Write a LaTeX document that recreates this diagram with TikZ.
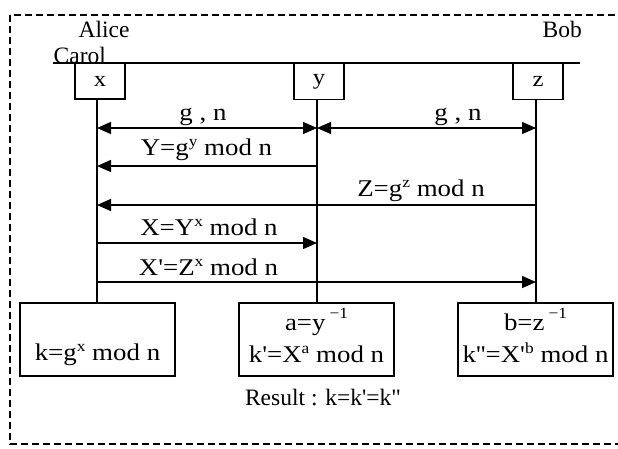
\documentclass[tikz,border=0pt]{standalone}
\usepackage{fontspec}
\usetikzlibrary{arrows.meta}
\newfontfamily\labfont[FakeStretch=1.12]{Liberation Serif}
\newfontfamily\namefont{Liberation Serif}
\newcommand\spr[1]{\raisebox{9pt}{\fontsize{15.5}{15.5}\selectfont #1}}
\newcommand\sprhi[1]{\,\raisebox{12pt}{\fontsize{15.5}{15.5}\selectfont #1}}
\begin{document}
\begin{tikzpicture}[x=1pt,y=-1pt,line width=1.3pt,
  lab/.style={font=\labfont\fontsize{24}{28}\selectfont,inner sep=0pt,anchor=base},
  nm/.style={font=\namefont\fontsize{23.5}{27}\selectfont,inner sep=0pt,anchor=base west},
  tbox/.style={draw,line width=1.5pt,minimum width=50pt,minimum height=36pt,inner sep=0pt,font=\labfont\fontsize{22}{26}\selectfont},
  kbox/.style={draw,line width=1.5pt,minimum width=155pt,minimum height=73pt,inner sep=0pt},
  frame/.style={line width=1.2pt,dash pattern=on 7pt off 4pt},
  tip/.style={-{Triangle[length=14pt,width=12pt]}},
  dtip/.style={{Triangle[length=14pt,width=12pt]}-{Triangle[length=14pt,width=12pt]}}]
\useasboundingbox (0,0) rectangle (618,448);
\draw[frame] (10,15) rectangle (626,444);

% names
\node[nm] (alice) at (78,37) {Alice};
\node[nm] (bob) at (542,37) {Bob};
\node[nm] (carol) at (53,63) {Carol};

% top line
\coordinate (tl) at (53,63);
\coordinate (tr) at (580,63);
\draw (tl) -- (tr);

% top boxes
\node[tbox,fill=white] (bx) at (100,81) {x};
\node[tbox,fill=white] (by) at (319,81.5) {y};
\node[tbox,fill=white] (bz) at (538,81.5) {z};

% bottom boxes
\node[kbox] (kx) at (97.5,339.5) {};
\node[kbox] (ky) at (316.5,339.5) {};
\node[kbox] (kz) at (535.5,339.5) {};

% lifeline coordinates
\coordinate (xg) at (97,128);  \coordinate (yg) at (317,128); \coordinate (zg) at (536,128);
\coordinate (yY) at (317,166); \coordinate (xY) at (97,166);
\coordinate (zZ) at (536,205); \coordinate (xZ) at (97,205);
\coordinate (xX) at (97,243);  \coordinate (yX) at (317,243);
\coordinate (xP) at (97,282);  \coordinate (zP) at (536,282);

% lifelines
\draw (bx.south -| xg) -- (kx.north -| xg);
\draw (by.south -| yg) -- (ky.north -| yg);
\draw (bz.south -| zg) -- (kz.north -| zg);

% messages
\draw[dtip] (xg) -- (yg);
\draw[dtip] (yg) -- (zg);
\node[lab] (gn1) at (203,120) {g , n};
\node[lab] (gn2) at (458,120) {g , n};

\draw[tip] (yY) -- (xY);
\node[lab] (mY) at (206.5,155) {Y=g\spr{y} mod n};

\draw[tip] (zZ) -- (xZ);
\node[lab] (mZ) at (421,196) {Z=g\spr{z} mod n};

\draw[tip] (xX) -- (yX);
\node[lab] (mX) at (209,235) {X=Y\spr{x} mod n};

\draw[tip] (xP) -- (zP);
\node[lab] (mP) at (208.5,275) {X'=Z\spr{x} mod n};

% box contents
\node[lab] (kxt) at (97.5,360) {k=g\spr{x} mod n};
\node[lab] (kya) at (316.5,330) {a=y\sprhi{\symbol{"2212}1}};
\node[lab] (kyt) at (316.5,362) {k'=X\spr{a} mod n};
\node[lab] (kzb) at (535.5,330) {b=z\sprhi{\symbol{"2212}1}};
\node[lab] (kzt) at (535.5,362) {k''=X'\spr{b} mod n};

\node[inner sep=0pt,anchor=base,font=\namefont\fontsize{23.5}{27}\selectfont] (res) at (323,405) {Result : k=k'=k"};
\end{tikzpicture}
\end{document}
